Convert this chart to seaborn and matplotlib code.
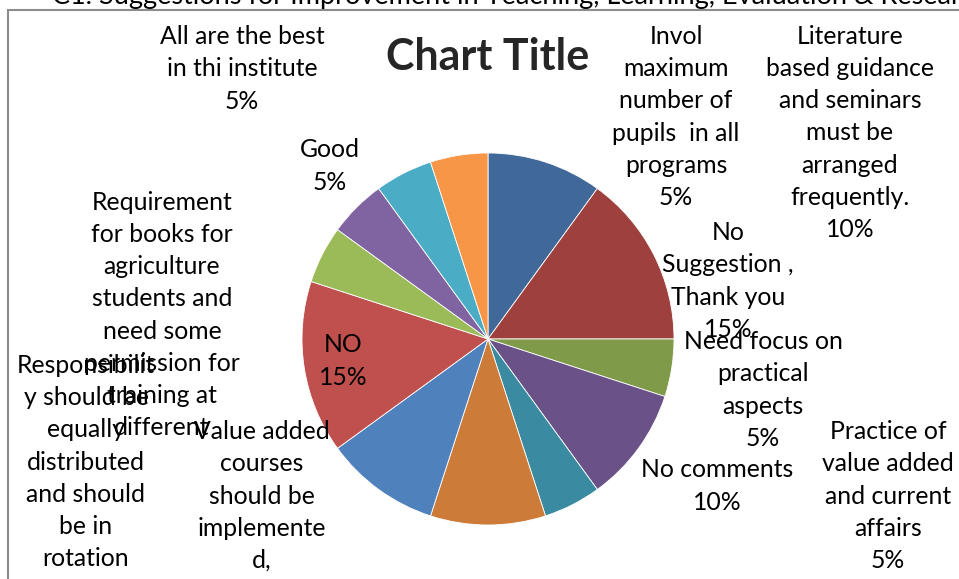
import seaborn as sns
import matplotlib.pyplot as plt
from matplotlib.patches import Rectangle

# slice data (clockwise from 12 o'clock)
labels = [
    "Literature\nbased guidance\nand seminars\nmust be\narranged\nfrequently.",
    "No\nSuggestion ,\nThank you",
    "Need focus on\npractical\naspects",
    "No comments",
    "Practice of\nvalue added\nand current\naffairs",
    "Value added\ncourses\nshould be\nimplemente\nd,",
    "Responsibilit\ny should be\nequally\ndistributed\nand should\nbe in\nrotation",
    "NO",
    "Requirement\nfor books for\nagriculture\nstudents and\nneed some\npermission for\ntraining at\ndifferent",
    "Good",
    "All are the best\nin thi institute",
    "Invol\nmaximum\nnumber of\npupils  in all\nprograms",
]
shares = [10, 15, 5, 10, 5, 10, 10, 15, 5, 5, 5, 5]
# percentages hidden in the reference (cut off / truncated labels)
show_pct = [True] * 5 + [False, False, True, False] + [True] * 3
colors = ["#406899", "#9E413E", "#7F9A48", "#6A5187", "#3A8BA1", "#CC7B38",
          "#4F81BD", "#C0504D", "#9BBB59", "#8064A2", "#4BACC6", "#F79646"]

# label block centres in pixels (x, y from top)
label_pos = [(850, 133), (728, 281), (763, 390), (717, 486), (888, 496), (262, 496),
             (86, 462), (343, 361), (162, 315), (330, 166), (242, 69), (676, 117)]

W, H = 959, 579
sns.set_theme(style="white")
plt.rcParams["font.family"] = ["Lato", "DejaVu Sans"]

fig = plt.figure(figsize=(W / 100, H / 100), dpi=100)
ax = fig.add_axes([0, 0, 1, 1])

ax.pie(shares, colors=sns.color_palette(colors), startangle=90, counterclock=False,
       center=(488, H - 339), radius=186,
       wedgeprops=dict(edgecolor="white", linewidth=0.6))
ax.set_xlim(0, W)
ax.set_ylim(0, H)
ax.axis("off")

# chart frame
ax.add_patch(Rectangle((8, -20), 1000, H - 10 + 20, fill=False,
                       edgecolor="#8C8C8C", linewidth=1.5, clip_on=False))

# document heading cut at the top
ax.text(52, H - 4, "C1. Suggestions for Improvement in Teaching, Learning, Evaluation & Research",
        fontsize=19.5, va="baseline", ha="left", color="black")

ax.text(488, H - 57, "Chart Title", fontsize=31, fontweight="bold", ha="center", va="center")

for lab, s, show, (x, y) in zip(labels, shares, show_pct, label_pos):
    txt = lab + (f"\n{s}%" if show else "")
    ax.text(x, H - y, txt, fontsize=17.8, ha="center", va="center",
            multialignment="center", linespacing=1.485, color="black")

fig.savefig("out.png", dpi=100)
